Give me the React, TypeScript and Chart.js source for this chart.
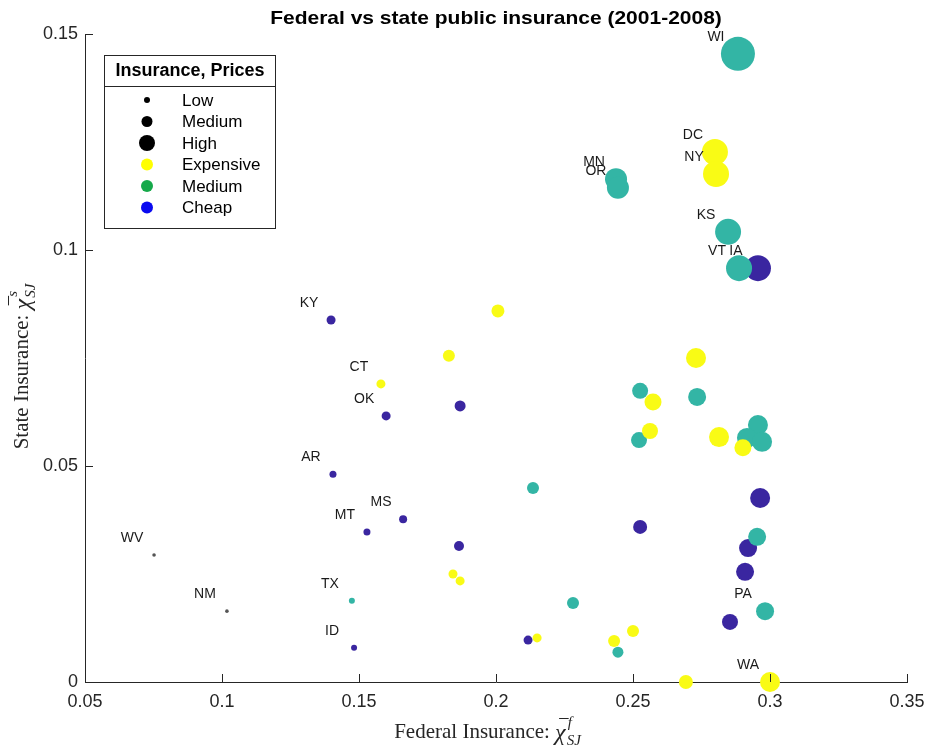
import React, { useEffect, useRef } from "react";
import { Chart, registerables } from "chart.js";

Chart.register(...registerables);

// Axis ticks
const xTicks = [0.05, 0.1, 0.15, 0.2, 0.25, 0.3, 0.35];
const yTicks = [0, 0.05, 0.1, 0.15];

// Expensive (yellow)
const expFed = [0.2799, 0.2803, 0.2007, 0.1828, 0.158, 0.273, 0.2573, 0.2562, 0.2814, 0.2901, 0.1843, 0.1869, 0.215, 0.2431, 0.25, 0.2693, 0.3];
const expState = [0.1227, 0.1176, 0.0859, 0.0755, 0.069, 0.075, 0.0648, 0.0581, 0.0567, 0.0542, 0.025, 0.0234, 0.0102, 0.0095, 0.0118, 0, 0];
const expSize = [13, 13, 6.5, 6, 4.5, 10, 8.5, 8, 10, 8.5, 4.5, 4.5, 4.5, 6, 6, 7, 10];
const expNames = ["DC", "NY", "", "", "CT", "", "", "", "", "", "", "", "", "", "", "", "WA"];

// Medium price (teal)
const medFed = [0.2883, 0.2438, 0.2445, 0.2847, 0.2887, 0.2526, 0.2734, 0.2522, 0.2956, 0.2916, 0.2971, 0.2135, 0.2953, 0.1474, 0.2281, 0.2982, 0.2445];
const medState = [0.1454, 0.1164, 0.1144, 0.1042, 0.0958, 0.0674, 0.066, 0.056, 0.0595, 0.0565, 0.0556, 0.0449, 0.0336, 0.0188, 0.0183, 0.0164, 0.0069];
const medSize = [17, 11, 11, 13, 13, 8, 9, 8, 10, 10, 10, 6, 9, 3, 6, 9, 5.5];
const medNames = ["WI", "MN", "OR", "KS", "VT", "", "", "", "", "", "", "", "", "TX", "", "PA", ""];

// Cheap (blue)
const cheapFed = [0.2956, 0.1398, 0.1599, 0.1869, 0.1405, 0.1661, 0.1529, 0.1865, 0.1482, 0.2117, 0.2964, 0.2526, 0.2909, 0.292, 0.2854];
const cheapState = [0.0958, 0.0838, 0.0616, 0.0639, 0.0481, 0.0377, 0.0347, 0.0315, 0.0079, 0.0097, 0.0426, 0.0359, 0.0255, 0.031, 0.0139];
const cheapSize = [13, 4.5, 4.5, 5.5, 3.5, 4, 3.5, 5, 3, 4.5, 10, 7, 9, 9, 8];
const cheapNames = ["IA", "KY", "OK", "", "AR", "MS", "MT", "", "ID", "", "", "", "", "", ""];

// No price class (tiny grey)
const otherFed = [0.0752, 0.1018];
const otherState = [0.0294, 0.0164];
const otherSize = [1.8, 1.8];
const otherNames = ["WV", "NM"];

const legendTitle = "Insurance, Prices";
const legendLabels = ["Low", "Medium", "High", "Expensive", "Medium", "Cheap"];

const COL_YELLOW = "#F9FB15";
const COL_TEAL = "#33B5A5";
const COL_BLUE = "#3A26A0";
const COL_GREY = "#555555";

const SANS = "'Liberation Sans', Arial, Helvetica, sans-serif";
const SERIF = "'Liberation Serif', 'DejaVu Serif', serif";

function pts(xs: number[], ys: number[], rs: number[]) {
  return xs.map((x, i) => ({ x, y: ys[i], r: rs[i] }));
}

const allNames = [expNames, medNames, cheapNames, otherNames];

function drawChiLabel(ctx: CanvasRenderingContext2D, text: string, sup: string, cx: number, cy: number, rot: number) {
  ctx.save();
  ctx.translate(cx, cy);
  ctx.rotate(rot);
  const mainFont = "21px " + SERIF;
  const chiFont = "italic 24px " + SERIF;
  const smallFont = "italic 15px " + SERIF;
  ctx.font = mainFont;
  const w1 = ctx.measureText(text).width;
  ctx.font = chiFont;
  const wc = ctx.measureText("χ").width;
  ctx.font = smallFont;
  const ws = Math.max(ctx.measureText(sup).width, ctx.measureText("SJ").width);
  const total = w1 + wc + 2 + ws;
  let x = -total / 2;
  const base = 7;
  ctx.fillStyle = "#262626";
  ctx.strokeStyle = "#262626";
  ctx.textBaseline = "alphabetic";
  ctx.textAlign = "left";
  ctx.font = mainFont;
  ctx.fillText(text, x, base);
  x += w1;
  ctx.font = chiFont;
  ctx.fillText("χ", x, base + 2);
  ctx.lineWidth = 1;
  ctx.beginPath();
  ctx.moveTo(x + 4, base - 19.5);
  ctx.lineTo(x + wc + 3, base - 19.5);
  ctx.stroke();
  x += wc + 2;
  ctx.font = smallFont;
  ctx.fillText(sup, x, base - 11);
  ctx.fillText("SJ", x - 1, base + 7);
  ctx.restore();
}

const decorPlugin = {
  id: "decor",
  afterDatasetsDraw(chart: any) {
    const ctx: CanvasRenderingContext2D = chart.ctx;
    const xs = chart.scales.x;
    const ys = chart.scales.y;
    const area = chart.chartArea;
    ctx.save();
    // inward tick marks
    ctx.strokeStyle = "#262626";
    ctx.lineWidth = 1;
    ctx.beginPath();
    xTicks.forEach((v) => {
      const px = Math.round(xs.getPixelForValue(v)) + 0.5;
      ctx.moveTo(px, area.bottom);
      ctx.lineTo(px, area.bottom - 8);
    });
    yTicks.forEach((v) => {
      const py = Math.round(ys.getPixelForValue(v)) + 0.5;
      ctx.moveTo(area.left, py);
      ctx.lineTo(area.left + 8, py);
    });
    ctx.stroke();

    // state labels
    ctx.fillStyle = "#1a1a1a";
    ctx.font = "14px " + SANS;
    ctx.textAlign = "center";
    ctx.textBaseline = "middle";
    chart.data.datasets.forEach((ds: any, di: number) => {
      const meta = chart.getDatasetMeta(di);
      const names = allNames[di];
      meta.data.forEach((el: any, i: number) => {
        const n = names[i];
        if (n) ctx.fillText(n, el.x - 22, el.y - 17);
      });
    });

    // title
    ctx.fillStyle = "#000";
    ctx.font = "bold 21px " + SANS;
    ctx.textAlign = "center";
    ctx.textBaseline = "middle";
    ctx.save();
    ctx.translate((area.left + area.right) / 2, 19);
    ctx.scale(1, 0.9);
    ctx.fillText("Federal vs state public insurance (2001-2008)", 0, 0);
    ctx.restore();

    // axis titles
    drawChiLabel(ctx, "Federal Insurance: ", "f", (area.left + area.right) / 2 - 8, 731, 0);
    drawChiLabel(ctx, "State Insurance: ", "s", 21, (area.top + area.bottom) / 2 + 8, -Math.PI / 2);

    // legend
    const lx = 104.5, ly = 55.5, lw = 171, lh = 173;
    ctx.fillStyle = "#fff";
    ctx.fillRect(lx, ly, lw, lh);
    ctx.strokeStyle = "#262626";
    ctx.lineWidth = 1;
    ctx.strokeRect(lx, ly, lw, lh);
    ctx.beginPath();
    ctx.moveTo(lx, 86.5);
    ctx.lineTo(lx + lw, 86.5);
    ctx.stroke();
    ctx.fillStyle = "#000";
    ctx.font = "bold 18px " + SANS;
    ctx.textAlign = "center";
    ctx.fillText(legendTitle, lx + lw / 2, 71);
    const rowY = [100, 121.5, 143, 164.5, 186, 207.5];
    const mk = [
      { r: 3, c: "#000" },
      { r: 5.5, c: "#000" },
      { r: 8, c: "#000" },
      { r: 6, c: "#FFFF00" },
      { r: 6, c: "#16A94A" },
      { r: 6, c: "#0A0AF0" },
    ];
    ctx.textAlign = "left";
    ctx.font = "17px " + SANS;
    legendLabels.forEach((t, i) => {
      ctx.fillStyle = mk[i].c;
      ctx.beginPath();
      ctx.arc(147, rowY[i], mk[i].r, 0, Math.PI * 2);
      ctx.fill();
      ctx.fillStyle = "#000";
      ctx.fillText(t, 182, rowY[i] + 1);
    });
    ctx.restore();
  },
};

export default function App() {
  const ref = useRef<HTMLCanvasElement | null>(null);
  useEffect(() => {
    if (!ref.current) return;
    const chart = new Chart(ref.current, {
      type: "bubble",
      data: {
        datasets: [
          { label: "Expensive", data: pts(expFed, expState, expSize), backgroundColor: COL_YELLOW, borderWidth: 0, clip: false },
          { label: "Medium", data: pts(medFed, medState, medSize), backgroundColor: COL_TEAL, borderWidth: 0, clip: false },
          { label: "Cheap", data: pts(cheapFed, cheapState, cheapSize), backgroundColor: COL_BLUE, borderWidth: 0, clip: false },
          { label: "Other", data: pts(otherFed, otherState, otherSize), backgroundColor: COL_GREY, borderWidth: 0, clip: false },
        ],
      },
      options: {
        responsive: false,
        animation: false,
        layout: { padding: { left: 0, right: 21, top: 34, bottom: 0 } },
        plugins: { legend: { display: false }, tooltip: { enabled: false }, title: { display: false } },
        scales: {
          x: {
            type: "linear",
            min: 0.05,
            max: 0.35,
            afterBuildTicks: (s: any) => { s.ticks = xTicks.map((v) => ({ value: v })); },
            afterFit: (s: any) => { s.height = 65; s.paddingLeft = 0; s.paddingRight = 0; },
            grid: { display: false, drawTicks: false },
            border: { display: true, color: "#262626", width: 1 },
            ticks: {
              padding: 9,
              color: "#262626",
              font: { size: 18, family: SANS },
              maxRotation: 0,
              callback: (v: any) => String(+Number(v).toFixed(2)),
            },
          },
          y: {
            type: "linear",
            min: 0,
            max: 0.15,
            afterBuildTicks: (s: any) => { s.ticks = yTicks.map((v) => ({ value: v })); },
            afterFit: (s: any) => { s.width = 85; s.paddingTop = 0; s.paddingBottom = 0; },
            grid: { display: false, drawTicks: false },
            border: { display: true, color: "#262626", width: 1 },
            ticks: {
              padding: 7,
              color: "#262626",
              font: { size: 18, family: SANS },
              callback: (v: any) => String(+Number(v).toFixed(2)),
            },
          },
        },
      },
      plugins: [decorPlugin],
    } as any);
    return () => chart.destroy();
  }, []);
  return (
    <div style={{ position: "fixed", left: 0, top: 0, width: 928, height: 747, background: "#fff" }}>
      <canvas ref={ref} width={928} height={747} style={{ width: 928, height: 747, display: "block" }} />
    </div>
  );
}
